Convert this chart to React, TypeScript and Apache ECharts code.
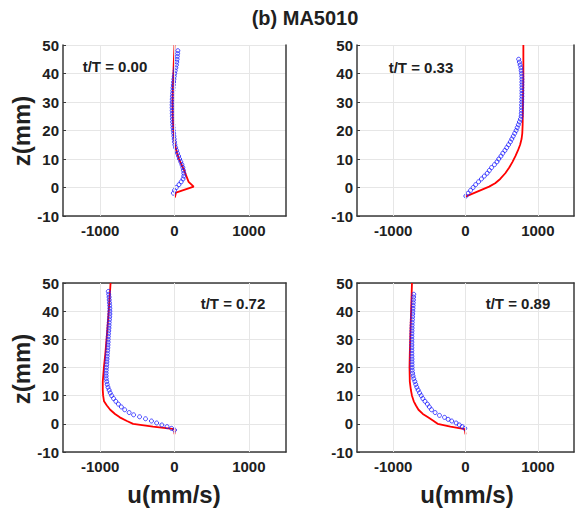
import React, { useEffect, useRef } from "react";
import * as echarts from "echarts";

// ---- data (u in mm/s, z in mm) ----
const panelLabels = ["t/T = 0.00", "t/T = 0.33", "t/T = 0.72", "t/T = 0.89"];
const xTickValues = [-1000, 0, 1000];

// panel 1 (t/T = 0.00)
const z1Meas = [48,47,46,45,44,43,42,41,40,39,38,37,36,35,34,33,32,31,30,29,28,27,26,25,24,23,22,21,20,19,18,17,16,15,14,13,12,11,10,9,8,7,6,5,4,3,2,1,0,-1,-2];
const u1Meas = [45,42,38,35,30,25,18,10,3,-3,-8,-12,-16,-20,-23,-26,-28,-30,-31,-32,-32,-31,-30,-29,-27,-25,-23,-20,-16,-12,-8,-4,0,5,15,28,40,55,68,85,100,112,120,125,125,115,90,60,25,0,-15];
const z1Model = [50,45,40,35,30,25,20,15,12,10,8,6,4,2,0.3,-1.8,-3.5];
const u1Model = [0,-8,-15,-22,-26,-24,-15,5,35,60,95,130,160,190,258,20,5];

// panel 2 (t/T = 0.33)
const z2Meas = [45,44,43,42,41,40,39,38,37,36,35,34,33,32,31,30,29,28,27,26,25,24,23,22,21,20,19,18,17,16,15,14,13,12,11,10,9,8,7,6,5,4,3,2,1,0,-1,-2,-3];
const u2Meas = [735,745,755,765,770,775,778,780,780,780,780,780,780,780,778,778,776,775,774,772,770,760,745,730,715,700,680,660,640,620,595,570,545,515,490,460,435,400,360,330,300,260,220,180,140,105,70,35,5];
const z2Model = [50,40,30,22,19,17,15,13,11,9,7,5,3,1.5,0.3,-3.2];
const u2Model = [800,800,795,790,785,775,755,725,690,650,605,550,480,410,327,0];

// panel 3 (t/T = 0.72)
const z3Meas = [47,46,45,44,43,42,41,40,39,38,37,36,35,34,33,32,31,30,29,28,27,26,25,24,23,22,21,20,19,18,17,16,15,14,13,12,11,10,9,8,7,6,5,4,3.2,2.5,1.8,1,0.3,-0.4,-1,-1.6,-2.2];
const u3Meas = [-890,-885,-880,-878,-875,-872,-870,-870,-870,-872,-875,-878,-880,-882,-885,-888,-890,-892,-893,-895,-897,-900,-903,-905,-908,-910,-912,-915,-918,-920,-920,-918,-912,-905,-895,-880,-865,-845,-820,-790,-755,-715,-670,-610,-550,-470,-390,-310,-240,-170,-100,-40,0];
const z3Model = [50,40,33,25,20,15,12,10,8,6.5,5,3.5,2.3,1,0,-1,-1.9,-3.7];
const u3Model = [-860,-885,-905,-930,-950,-965,-965,-960,-948,-910,-865,-800,-736,-640,-557,-290,0,0];

// panel 4 (t/T = 0.89)
const z4Meas = [46,45,44,43,42,41,40,39,38,37,36,35,34,33,32,31,30,29,28,27,26,25,24,23,22,21,20,19,18,17,16,15,14,13,12,11,10,9,8,7,6,5,4,3,2.3,1.6,1,0.3,-0.4,-1,-1.6];
const u4Meas = [-715,-718,-720,-722,-724,-726,-728,-730,-732,-734,-736,-738,-739,-740,-741,-742,-742,-742,-742,-742,-742,-742,-741,-740,-740,-739,-738,-736,-732,-725,-715,-700,-688,-673,-655,-635,-612,-590,-560,-527,-500,-470,-420,-360,-290,-240,-190,-130,-85,-45,-10];
const z4Model = [50,40,33,25,20,15,12,10,8,6.5,5,3.5,2.3,1,0,-1,-1.9,-3.7];
const u4Model = [-740,-752,-761,-770,-774,-770,-755,-740,-715,-685,-650,-590,-518,-440,-385,-208,-10,0];

const measU = [u1Meas, u2Meas, u3Meas, u4Meas];
const measZ = [z1Meas, z2Meas, z3Meas, z4Meas];
const modelU = [u1Model, u2Model, u3Model, u4Model];
const modelZ = [z1Model, z2Model, z3Model, z4Model];

const FONT = 'Arial, "Liberation Sans", Helvetica, sans-serif';
const TXT = "#202020";
const AX = "#3a3a3a";
const GRIDC = "#e6e6e6";

const grids = [
  { left: 63, top: 45, width: 223, height: 171 },
  { left: 357, top: 45, width: 220, height: 171 },
  { left: 63, top: 283, width: 223, height: 169 },
  { left: 357, top: 283, width: 220, height: 169 },
];
const labelPos = [
  [115, 66],
  [421, 67],
  [233, 303],
  [518, 303],
];

export default function App() {
  const ref = useRef<HTMLDivElement>(null);
  useEffect(() => {
    if (!ref.current) return;
    const chart = echarts.init(ref.current, null, { renderer: "svg" });
    const xAxes: any[] = [];
    const yAxes: any[] = [];
    const series: any[] = [];
    grids.forEach((g, i) => {
      xAxes.push({
        type: "value",
        gridIndex: i,
        min: -1500,
        max: 1500,
        interval: 500,
        axisLine: { show: true, onZero: false, lineStyle: { color: AX, width: 1.5 } },
        axisTick: { show: false },
        splitLine: { show: false },
        axisLabel: {
          color: TXT,
          fontFamily: FONT,
          fontWeight: "bold",
          fontSize: 15,
          margin: 7,
          formatter: (v: number) => (v % 1000 === 0 ? String(v) : ""),
        },
      });
      yAxes.push({
        type: "value",
        gridIndex: i,
        min: -10,
        max: 50,
        interval: 10,
        axisLine: { show: true, onZero: false, lineStyle: { color: AX, width: 1.5 } },
        axisTick: { show: true, inside: true, length: 3, lineStyle: { color: AX } },
        splitLine: { show: true, lineStyle: { color: GRIDC, width: 1 } },
        axisLabel: {
          color: TXT,
          fontFamily: FONT,
          fontWeight: "bold",
          fontSize: 15,
          margin: 4,
        },
      });
    });
    // box borders: right side for all, top side for lower panels
    grids.forEach((g, i) => {
      yAxes.push({
        type: "value",
        gridIndex: i,
        position: "right",
        min: -10,
        max: 50,
        axisLine: { show: true, onZero: false, lineStyle: { color: AX, width: 1.5 } },
        axisTick: { show: false },
        axisLabel: { show: false },
        splitLine: { show: false },
      });
      if (i >= 2) {
        xAxes.push({
          type: "value",
          gridIndex: i,
          position: "top",
          min: -1500,
          max: 1500,
          axisLine: { show: true, onZero: false, lineStyle: { color: AX, width: 1.5 } },
          axisTick: { show: false },
          axisLabel: { show: false },
          splitLine: { show: false },
        });
      }
    });
    grids.forEach((g, i) => {
      series.push({
        type: "line",
        xAxisIndex: i,
        yAxisIndex: i,
        data: [[-1500, -10]],
        showSymbol: false,
        symbolSize: 0,
        lineStyle: { width: 0 },
        z: 1,
        silent: true,
        markLine: {
          silent: true,
          symbol: ["none", "none"],
          label: { show: false },
          lineStyle: { color: GRIDC, type: "solid", width: 1 },
          data: xTickValues.map((v) => ({ xAxis: v })),
          animation: false,
        },
      });
      series.push({
        type: "line",
        xAxisIndex: i,
        yAxisIndex: i,
        data: modelU[i].map((u, k) => [u, modelZ[i][k]]),
        showSymbol: false,
        lineStyle: { color: "#ff0000", width: 1.8 },
        itemStyle: { color: "#ff0000" },
        z: 3,
      });
      series.push({
        type: "scatter",
        xAxisIndex: i,
        yAxisIndex: i,
        data: measU[i].map((u, k) => [u, measZ[i][k]]),
        symbol: "circle",
        symbolSize: 4,
        itemStyle: { color: "rgba(0,0,0,0)", borderColor: "#1a1aff", borderWidth: 1 },
        z: 4,
      });
    });

    const graphic: any[] = [
      {
        type: "text",
        x: 305,
        y: 18,
        style: { text: "(b) MA5010", font: `bold 20px ${FONT}`, fill: TXT, align: "center", verticalAlign: "middle" },
      },
      {
        type: "text",
        x: 21,
        y: 131,
        rotation: Math.PI / 2,
        style: { text: "z(mm)", font: `bold 24px ${FONT}`, fill: TXT, align: "center", verticalAlign: "middle" },
      },
      {
        type: "text",
        x: 21,
        y: 369,
        rotation: Math.PI / 2,
        style: { text: "z(mm)", font: `bold 24px ${FONT}`, fill: TXT, align: "center", verticalAlign: "middle" },
      },
      {
        type: "text",
        x: 174,
        y: 494,
        style: { text: "u(mm/s)", font: `bold 24px ${FONT}`, fill: TXT, align: "center", verticalAlign: "middle" },
      },
      {
        type: "text",
        x: 467,
        y: 494,
        style: { text: "u(mm/s)", font: `bold 24px ${FONT}`, fill: TXT, align: "center", verticalAlign: "middle" },
      },
    ];
    panelLabels.forEach((t, i) => {
      graphic.push({
        type: "text",
        x: labelPos[i][0],
        y: labelPos[i][1],
        z: 10,
        style: { text: t, font: `bold 15px ${FONT}`, fill: TXT, align: "center", verticalAlign: "middle" },
      });
    });

    chart.setOption({
      animation: false,
      backgroundColor: "#ffffff",
      grid: grids,
      xAxis: xAxes,
      yAxis: yAxes,
      series,
      graphic,
    });
    return () => chart.dispose();
  }, []);
  return (
    <div
      ref={ref}
      style={{ position: "fixed", left: 0, top: 0, width: 577, height: 509, background: "#fff" }}
    />
  );
}
